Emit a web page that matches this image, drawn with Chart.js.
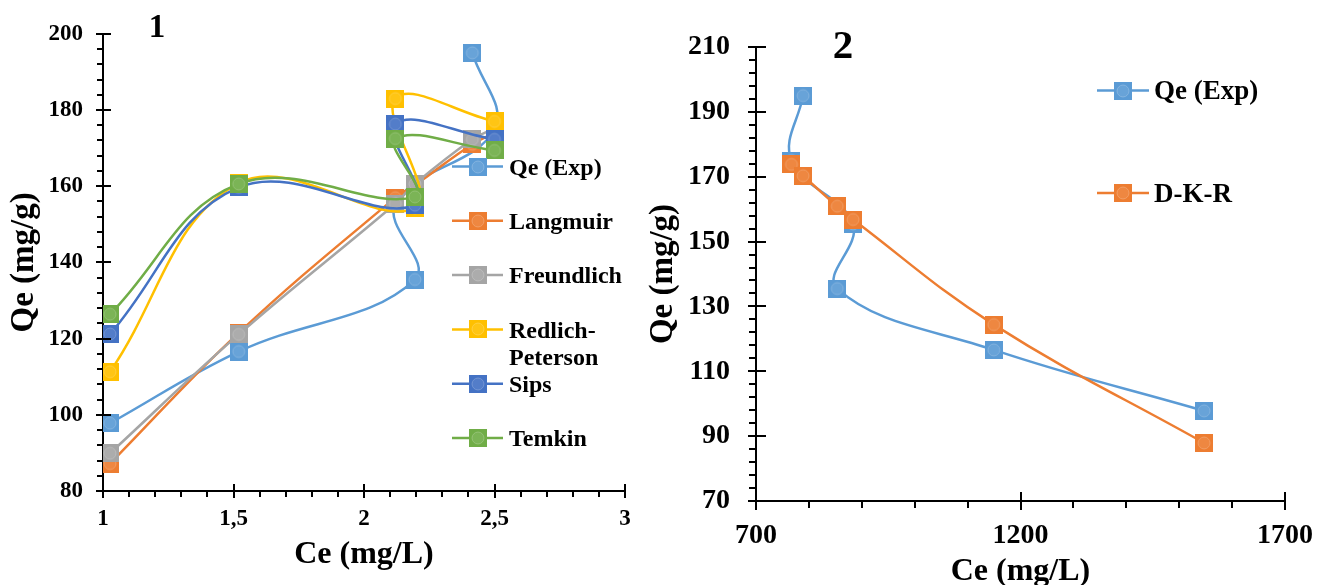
<!DOCTYPE html>
<html>
<head>
<meta charset="utf-8">
<title>Qe vs Ce</title>
<script src="https://cdn.jsdelivr.net/npm/chart.js@4.4.1/dist/chart.umd.min.js"></script>
<style>
  html, body { margin: 0; padding: 0; background: #fff; overflow: hidden; }
  body { width: 1331px; height: 585px; position: relative; }
  #c1 { position: absolute; left: 0; top: 0; }
  #c2 { position: absolute; left: 640px; top: 0; }
</style>
</head>
<body>
<canvas id="c1" width="660" height="585"></canvas>
<canvas id="c2" width="691" height="600"></canvas>
<script>
// rows A..F share the experimental Qe values
const qeExp = [97.8, 116.6, 135.5, 155.4, 175, 195];
const ceExp1 = [1.027, 1.52, 2.195, 2.12, 2.5, 2.415];   // panel 1 Ce
const ceExp2 = [1547, 1149.5, 853.6, 883.5, 767, 789];    // panel 2 Ce

// panel 1 model fits
const ceSorted1 = [1.027, 1.52, 2.12, 2.195, 2.415, 2.5];
const qeLangmuir = [87.2, 121.5, 157, 160.3, 171, 174];
const qeFreundlich = [89.9, 121.1, 155.4, 160.6, 172.3, 175.2];
const ceFit1 = [1.027, 1.52, 2.195, 2.12, 2.5];
const qeRedlich = [111.3, 160.8, 154.3, 183, 177];
const qeSips = [121.2, 159.7, 155, 176.3, 172.3];
const qeTemkin = [126.4, 160.6, 157.2, 172.5, 169.4];

// panel 2 model fit
const ceDKR = [767, 789, 853.6, 883.5, 1149.5, 1547];
const qeDKR = [173.8, 170.3, 160.9, 156.8, 124.4, 87.9];

const ticks1X = { min: 1, max: 3, step: 0.5 };
const ticks1Y = { min: 80, max: 200, step: 20 };
const ticks2X = { min: 700, max: 1700, step: 500 };
const ticks2Y = { min: 70, max: 210, step: 20 };

const FONT = '"Liberation Serif", "Times New Roman", serif';
Chart.defaults.font.family = FONT;
Chart.defaults.color = '#000';

const COLORS = {
  exp: '#5B9BD5', langmuir: '#ED7D31', freundlich: '#A5A5A5',
  redlich: '#FFC000', sips: '#4472C4', temkin: '#70AD47'
};

function mix(hex, amt) {
  const n = parseInt(hex.slice(1), 16);
  const ch = [n >> 16, (n >> 8) & 255, n & 255].map(c => Math.round(c + (255 - c) * amt));
  return `rgb(${ch[0]},${ch[1]},${ch[2]})`;
}

// square marker with the soft round highlight in the middle
function marker(color, size) {
  const c = document.createElement('canvas');
  c.width = c.height = size;
  const g = c.getContext('2d');
  g.fillStyle = color;
  g.fillRect(0, 0, size, size);
  g.beginPath();
  g.arc(size / 2, size / 2, size * 0.33, 0, Math.PI * 2);
  g.fillStyle = mix(color, 0.08);
  g.fill();
  g.strokeStyle = mix(color, 0.25);
  g.lineWidth = 1;
  g.stroke();
  return c;
}

function pts(xs, ys) {
  return xs.map((x, i) => ({ x, y: ys[i] }));
}

function series(label, color, xs, ys, idx, n, size, width) {
  return {
    label, data: pts(xs, ys),
    showLine: true, borderColor: color, backgroundColor: color,
    borderWidth: width, tension: 0.4,
    pointStyle: marker(color, size), pointRadius: size / 2,
    order: n - idx
  };
}

const tickMarks = {
  id: 'tickMarks',
  afterDraw(chart, args, opts) {
    const ctx = chart.ctx;
    ctx.save();
    ctx.strokeStyle = '#000';
    ctx.lineWidth = 2;
    for (const id of ['x', 'y']) {
      const s = chart.scales[id];
      const o = opts[id];
      const n = Math.round((s.max - s.min) / o.minor);
      for (let i = 0; i <= n; i++) {
        const major = i % o.every === 0;
        const p = Math.round(s.getPixelForValue(s.min + i * o.minor));
        ctx.beginPath();
        if (id === 'x') {
          const y = s.top;
          ctx.moveTo(p, major ? y - o.inner : y);
          ctx.lineTo(p, y + (major ? o.outer : o.minorLen));
        } else {
          const x = s.right;
          ctx.moveTo(major ? x + o.inner : x, p);
          ctx.lineTo(x - (major ? o.outer : o.minorLen), p);
        }
        ctx.stroke();
      }
    }
    ctx.restore();
  }
};

const insetLegend = {
  id: 'insetLegend',
  afterDraw(chart, args, o) {
    const ctx = chart.ctx;
    ctx.save();
    ctx.font = `bold ${o.size}px ${FONT}`;
    ctx.textBaseline = 'middle';
    ctx.fillStyle = '#000';
    chart.data.datasets.forEach((ds, i) => {
      const y = o.top + i * o.gap;
      ctx.strokeStyle = ds.borderColor;
      ctx.lineWidth = ds.borderWidth;
      ctx.beginPath();
      ctx.moveTo(o.left, y);
      ctx.lineTo(o.left + o.line, y);
      ctx.stroke();
      const img = ds.pointStyle;
      ctx.drawImage(img, Math.round(o.left + o.line / 2 - img.width / 2), Math.round(y - img.height / 2));
      let lines = [ds.label];
      if (ctx.measureText(ds.label).width > o.maxWidth && ds.label.includes('-')) {
        const k = ds.label.indexOf('-') + 1;
        lines = [ds.label.slice(0, k), ds.label.slice(k)];
      }
      lines.forEach((t, k) => ctx.fillText(t, o.left + o.line + o.pad, y + 2 + k * o.lineGap));
    });
    ctx.restore();
  }
};

const panelTag = {
  id: 'panelTag',
  afterDraw(chart, args, o) {
    const ctx = chart.ctx;
    ctx.save();
    ctx.font = `bold ${o.size}px ${FONT}`;
    ctx.textAlign = 'center';
    ctx.textBaseline = 'alphabetic';
    ctx.fillStyle = '#000';
    ctx.fillText(o.text, o.x, o.y);
    ctx.restore();
  }
};

function axes(tx, ty, cfg) {
  const comma = v => String(v).replace('.', ',');
  return {
    x: {
      type: 'linear', min: tx.min, max: tx.max,
      grid: { display: false, drawTicks: false },
      border: { display: true, color: '#000', width: 2 },
      ticks: {
        stepSize: tx.step, autoSkip: false, maxRotation: 0, padding: cfg.xPad,
        font: { size: cfg.tick, weight: 'bold' }, color: '#000',
        callback: v => comma(v)
      },
      title: {
        display: true, text: 'Ce (mg/L)', color: '#000',
        font: { size: 32, weight: 'bold' }, padding: { top: 0, bottom: cfg.xTitlePad }
      },
      afterFit: s => { s.height = cfg.xHeight; }
    },
    y: {
      type: 'linear', min: ty.min, max: ty.max,
      grid: { display: false, drawTicks: false },
      border: { display: true, color: '#000', width: 2 },
      ticks: {
        stepSize: ty.step, padding: cfg.yPad,
        font: { size: cfg.tick, weight: 'bold' }, color: '#000'
      },
      title: {
        display: true, text: 'Qe (mg/g)', color: '#000',
        font: { size: 33, weight: 'bold' }, padding: { top: cfg.yTitlePad, bottom: 0 }
      },
      afterFit: s => { s.width = cfg.yWidth; }
    }
  };
}

// panel 1: experimental data against five isotherm fits
new Chart(document.getElementById('c1'), {
  type: 'scatter',
  data: {
    datasets: [
      series('Qe (Exp)', COLORS.exp, ceExp1, qeExp, 0, 6, 18, 2.5),
      series('Langmuir', COLORS.langmuir, ceSorted1, qeLangmuir, 1, 6, 18, 2.5),
      series('Freundlich', COLORS.freundlich, ceSorted1, qeFreundlich, 2, 6, 18, 2.5),
      series('Redlich-Peterson', COLORS.redlich, ceFit1, qeRedlich, 3, 6, 18, 2.5),
      series('Sips', COLORS.sips, ceFit1, qeSips, 4, 6, 18, 2.5),
      series('Temkin', COLORS.temkin, ceFit1, qeTemkin, 5, 6, 18, 2.5)
    ]
  },
  options: {
    responsive: false, animation: false, events: [],
    layout: { padding: { top: 28, right: 35, left: 0, bottom: 0 } },
    scales: axes(ticks1X, ticks1Y, {
      tick: 23, xPad: 14, yPad: 20, xHeight: 94, yWidth: 103, xTitlePad: 11, yTitlePad: 5
    }),
    plugins: {
      legend: { display: false }, tooltip: { enabled: false },
      tickMarks: {
        x: { minor: 0.1, every: 5, inner: 7, outer: 7, minorLen: 6 },
        y: { minor: 4, every: 5, inner: 8, outer: 7, minorLen: 6 }
      },
      insetLegend: { left: 452, top: 166.5, gap: 54.3, line: 51, pad: 6, size: 24, lineGap: 27.5, maxWidth: 125 },
      panelTag: { text: '1', x: 157, y: 37, size: 33 }
    }
  },
  plugins: [tickMarks, insetLegend, panelTag]
});

// panel 2: experimental data against the D-K-R fit
new Chart(document.getElementById('c2'), {
  type: 'scatter',
  data: {
    datasets: [
      series('Qe (Exp)', COLORS.exp, ceExp2, qeExp, 0, 2, 18, 2.5),
      series('D-K-R', COLORS.langmuir, ceDKR, qeDKR, 1, 2, 18, 2.5)
    ]
  },
  options: {
    responsive: false, animation: false, events: [],
    layout: { padding: { top: 47, right: 46, left: 0, bottom: 0 } },
    scales: axes(ticks2X, ticks2Y, {
      tick: 28, xPad: 18, yPad: 26, xHeight: 99, yWidth: 116, xTitlePad: 9, yTitlePad: 4
    }),
    plugins: {
      legend: { display: false }, tooltip: { enabled: false },
      tickMarks: {
        x: { minor: 100, every: 5, inner: 9, outer: 9, minorLen: 7 },
        y: { minor: 4, every: 5, inner: 10, outer: 8, minorLen: 7 }
      },
      insetLegend: { left: 457, top: 90.5, gap: 102.5, line: 52, pad: 5, size: 27, lineGap: 30, maxWidth: 200 },
      panelTag: { text: '2', x: 203, y: 58, size: 41 }
    }
  },
  plugins: [tickMarks, insetLegend, panelTag]
});
</script>
</body>
</html>
